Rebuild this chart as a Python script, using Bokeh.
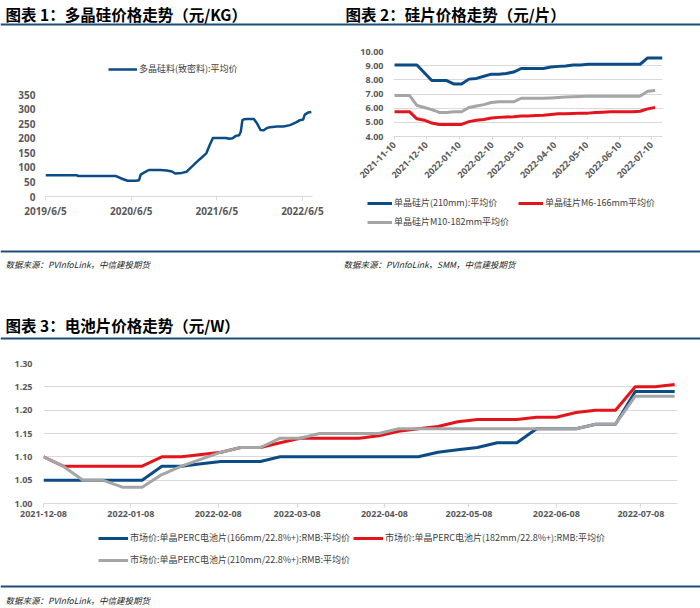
import math
import pandas as pd
from bokeh.plotting import figure
from bokeh.models import Range1d, FixedTicker, PrintfTickFormatter, Legend, LegendItem
from bokeh.layouts import column, row
from bokeh.core.properties import value
from bokeh.embed import file_html
from bokeh.resources import INLINE

# ---------------- data ----------------
titles = ["图表 1：多晶硅价格走势（元/KG）", "图表 2：硅片价格走势（元/片）", "图表 3：电池片价格走势（元/W）"]
sources = ["数据来源：PVInfoLink，中信建投期货", "数据来源：PVInfoLink，SMM，中信建投期货", "数据来源：PVInfoLink，中信建投期货"]

poly_label = "多晶硅料(致密料):平均价"
poly_dates = ["2019-06-05", "2019-10-16", "2019-10-23", "2020-04-01", "2020-04-29", "2020-05-20",
              "2020-06-24", "2020-07-08", "2020-07-15", "2020-07-29", "2020-08-19", "2020-10-07",
              "2020-11-04", "2020-11-25", "2020-12-09", "2021-01-06", "2021-01-27", "2021-02-24",
              "2021-03-24", "2021-04-21", "2021-05-05", "2021-05-19", "2021-07-14", "2021-07-28",
              "2021-08-11", "2021-08-25", "2021-09-08", "2021-09-15", "2021-09-22", "2021-09-29",
              "2021-10-13", "2021-11-10", "2021-11-24", "2021-12-08", "2021-12-22", "2022-01-05",
              "2022-01-19", "2022-02-16", "2022-03-16", "2022-04-13", "2022-05-11", "2022-05-25",
              "2022-06-08", "2022-06-15", "2022-06-29", "2022-07-13"]
poly_price = [73, 73, 70, 70, 60, 54,
              54, 56, 75, 82, 91, 91,
              89, 86, 79, 81, 85, 107,
              128, 148, 176, 201, 201, 198,
              200, 208, 210, 222, 262, 265,
              266, 266, 250, 228, 227, 235,
              238, 240, 240, 245, 255, 262,
              264, 281, 288, 290]
poly_xticks = ["2019/6/5", "2020/6/5", "2021/6/5", "2022/6/5"]
poly_yticks = [0, 50, 100, 150, 200, 250, 300, 350]

wafer_labels = ["单晶硅片(210mm):平均价", "单晶硅片M6-166mm平均价", "单晶硅片M10-182mm平均价"]
wafer_dates = ["2021-11-10", "2021-11-17", "2021-11-24", "2021-12-01", "2021-12-08", "2021-12-15",
               "2021-12-22", "2021-12-29", "2022-01-05", "2022-01-12", "2022-01-19", "2022-01-26",
               "2022-02-02", "2022-02-09", "2022-02-16", "2022-02-23", "2022-03-02", "2022-03-09",
               "2022-03-16", "2022-03-23", "2022-03-30", "2022-04-06", "2022-04-13", "2022-04-20",
               "2022-04-27", "2022-05-04", "2022-05-11", "2022-05-18", "2022-05-25", "2022-06-01",
               "2022-06-08", "2022-06-15", "2022-06-22", "2022-06-29", "2022-07-06", "2022-07-13",
               "2022-07-20"]
wafer_210 = [9.05, 9.05, 9.05, 9.05, 8.50, 7.95, 7.95, 7.95, 7.70, 7.70, 8.05, 8.10,
             8.25, 8.40, 8.40, 8.45, 8.55, 8.80, 8.80, 8.80, 8.80, 8.90, 8.95, 8.98,
             9.05, 9.05, 9.10, 9.10, 9.10, 9.10, 9.10, 9.10, 9.10, 9.10, 9.55, 9.55, 9.55]
wafer_166 = [5.75, 5.75, 5.75, 5.25, 5.15, 4.95, 4.85, 4.85, 4.85, 4.85, 5.05, 5.15,
             5.20, 5.30, 5.35, 5.38, 5.40, 5.45, 5.45, 5.48, 5.50, 5.55, 5.60, 5.60,
             5.62, 5.65, 5.65, 5.70, 5.72, 5.75, 5.75, 5.75, 5.75, 5.78, 5.95, 6.05]
wafer_182 = [6.90, 6.90, 6.90, 6.20, 6.05, 5.90, 5.70, 5.70, 5.75, 5.75, 6.05, 6.15,
             6.25, 6.40, 6.45, 6.45, 6.45, 6.70, 6.70, 6.70, 6.70, 6.72, 6.75, 6.78,
             6.80, 6.82, 6.85, 6.85, 6.85, 6.85, 6.85, 6.85, 6.85, 6.85, 7.20, 7.25]
wafer_xticks = ["2021-11-10", "2021-12-10", "2022-01-10", "2022-02-10", "2022-03-10",
                "2022-04-10", "2022-05-10", "2022-06-10", "2022-07-10"]
wafer_yticks = [4, 5, 6, 7, 8, 9, 10]

cell_labels = ["市场价:单晶PERC电池片(166mm/22.8%+):RMB:平均价",
               "市场价:单晶PERC电池片(182mm/22.8%+):RMB:平均价",
               "市场价:单晶PERC电池片(210mm/22.8%+):RMB:平均价"]
cell_dates = ["2021-12-08", "2021-12-15", "2021-12-22", "2021-12-29", "2022-01-05", "2022-01-12",
              "2022-01-19", "2022-01-26", "2022-02-02", "2022-02-09", "2022-02-16", "2022-02-23",
              "2022-03-02", "2022-03-09", "2022-03-16", "2022-03-23", "2022-03-30", "2022-04-06",
              "2022-04-13", "2022-04-20", "2022-04-27", "2022-05-04", "2022-05-11", "2022-05-18",
              "2022-05-25", "2022-06-01", "2022-06-08", "2022-06-15", "2022-06-22", "2022-06-29",
              "2022-07-06", "2022-07-13", "2022-07-20"]
cell_166 = [1.05, 1.05, 1.05, 1.05, 1.05, 1.05, 1.08, 1.08, 1.085, 1.09, 1.09, 1.09,
            1.10, 1.10, 1.10, 1.10, 1.10, 1.10, 1.10, 1.10, 1.11, 1.115, 1.12, 1.13,
            1.13, 1.16, 1.16, 1.16, 1.17, 1.17, 1.24, 1.24, 1.24]
cell_182 = [1.10, 1.08, 1.08, 1.08, 1.08, 1.08, 1.10, 1.10, 1.105, 1.11, 1.12, 1.12,
            1.13, 1.14, 1.14, 1.14, 1.14, 1.145, 1.155, 1.16, 1.165, 1.175, 1.18, 1.18,
            1.18, 1.185, 1.185, 1.195, 1.20, 1.20, 1.25, 1.25, 1.255]
cell_210 = [1.10, 1.08, 1.05, 1.05, 1.035, 1.035, 1.062, 1.08, 1.095, 1.11, 1.12, 1.12,
            1.14, 1.14, 1.15, 1.15, 1.15, 1.15, 1.16, 1.16, 1.16, 1.16, 1.16, 1.16,
            1.16, 1.16, 1.16, 1.16, 1.17, 1.17, 1.23, 1.23, 1.23]
cell_xticks = ["2021-12-08", "2022-01-08", "2022-02-08", "2022-03-08", "2022-04-08",
               "2022-05-08", "2022-06-08", "2022-07-08"]
cell_yticks = [1.00, 1.05, 1.10, 1.15, 1.20, 1.25, 1.30]

# ---------------- style ----------------
BLUE = "#0b4c86"
RED = "#e3141c"
GRAY = "#a5a5a5"
RULE = "#1f4e79"
TICK = "#595959"
LIGHT = "#d9d9d9"
CJK = "Noto Sans CJK SC"
NUM = "Open Sans"


def ts(s):
    return pd.Timestamp(s.replace("/", "-")).to_pydatetime()


def ms(s):
    return float(pd.Timestamp(s.replace("/", "-")).value // 10**6)


def strip(width, height):
    p = figure(width=width, height=height, x_range=Range1d(0, width), y_range=Range1d(height, 0),
               output_backend="svg", toolbar_location=None, min_border=0, frame_align=False,
               x_axis_location=None, y_axis_location=None, title=None)
    p.outline_line_color = None
    p.grid.visible = False
    return p


def put_text(p, x, y, txt, size, bold=False, italic=False, color="#000000"):
    p.text(x=[x], y=[y], text=[txt], text_font=value(CJK), text_font_size=size,
           text_font_style="bold" if bold else ("italic" if italic else "normal"),
           text_baseline="middle", text_align="left", text_color=color)


def rule(p, x0, x1, y):
    p.segment(x0=[x0], y0=[y], x1=[x1], y1=[y], line_color=RULE, line_width=2)


def legend_strip(width, height, entries):
    # legend keys: styled line renderers (no visible data) referenced by single-item legends
    p = strip(width, height)
    for label, color, lw, x, y, gw in entries:
        r = p.line(x=[0, 0], y=[float("nan"), float("nan")], line_color=color, line_width=lw)
        lg = Legend(items=[LegendItem(label=value(label), renderers=[r], index=0)], location=(x, y),
                    padding=0, margin=0, spacing=0, glyph_width=gw, glyph_height=12,
                    label_height=12, label_standoff=2, border_line_color=None,
                    background_fill_alpha=0, label_text_font=CJK,
                    label_text_font_size="9px", label_text_color="#404040")
        p.add_layout(lg, "center")
    return p


def chart(width, height, xr, yr, borders):
    l, r, t, b = borders
    p = figure(width=width, height=height, x_axis_type="datetime", x_range=xr, y_range=yr,
               output_backend="svg", toolbar_location=None, title=None, frame_align=False,
               min_border_left=l, min_border_right=r, min_border_top=t, min_border_bottom=b)
    p.outline_line_color = None
    p.xgrid.visible = False
    p.ygrid.grid_line_color = LIGHT
    p.ygrid.grid_line_width = 1
    for ax in (p.xaxis[0], p.yaxis[0]):
        ax.major_label_text_color = TICK
        ax.major_label_text_font = NUM
        ax.major_label_text_font_style = "bold"
        ax.minor_tick_line_color = None
    p.xaxis.axis_line_color = LIGHT
    p.xaxis.major_tick_line_color = LIGHT
    p.xaxis.major_tick_in = 0
    p.xaxis.major_tick_out = 4
    p.xaxis.major_label_standoff = 3
    p.yaxis.axis_line_color = None
    p.yaxis.major_tick_line_color = None
    p.yaxis.major_tick_in = 0
    p.yaxis.major_tick_out = 0
    return p


def date_ticks(p, labels):
    ticks = [ms(s) for s in labels]
    p.xaxis.ticker = FixedTicker(ticks=ticks)
    p.xaxis.major_label_overrides = {t: s for t, s in zip(ticks, labels)}


# ---------------- header strip ----------------
sa = strip(700, 28)
put_text(sa, 5, 13, titles[0], "15.5px", bold=True)
put_text(sa, 345, 13, titles[1], "15.5px", bold=True)
rule(sa, 0, 700, 24)

# ---------------- chart 1 ----------------
leg1 = legend_strip(340, 54, [(poly_label, BLUE, 2.5, 108, 7, 29)])
p1 = chart(340, 166, Range1d(ts("2019-06-05"), ts("2022-07-18")), Range1d(0, 350), (45, 28, 12, 52))
p1.ygrid.visible = False
p1.line(pd.to_datetime(poly_dates), poly_price, line_color=BLUE, line_width=2.5, line_join="round")
date_ticks(p1, poly_xticks)
p1.yaxis.ticker = FixedTicker(ticks=poly_yticks)
p1.xaxis.major_label_text_font_size = "10px"
p1.yaxis.major_label_text_font_size = "10px"
p1.yaxis.major_label_standoff = 10

# ---------------- chart 2 ----------------
p2 = chart(360, 162, Range1d(ts("2021-11-09"), ts("2022-07-20")), Range1d(4, 10), (53, 38, 23, 54))
wd = pd.to_datetime(wafer_dates)
p2.line(wd, wafer_210, line_color=BLUE, line_width=3, line_join="round")
p2.line(wd[:len(wafer_166)], wafer_166, line_color=RED, line_width=3, line_join="round")
p2.line(wd[:len(wafer_182)], wafer_182, line_color=GRAY, line_width=3, line_join="round")
date_ticks(p2, wafer_xticks)
p2.xaxis.major_label_orientation = math.pi / 4
p2.xaxis.major_tick_out = 3
p2.xaxis.major_label_standoff = 4
p2.yaxis.ticker = FixedTicker(ticks=wafer_yticks)
p2.yaxis.formatter = PrintfTickFormatter(format="%.2f")
p2.xaxis.major_label_text_font_size = "9px"
p2.yaxis.major_label_text_font_size = "9px"
p2.yaxis.major_label_standoff = 10
leg2 = legend_strip(360, 58, [(wafer_labels[0], BLUE, 3, 27, 39, 25),
                              (wafer_labels[1], RED, 3, 178, 39, 25),
                              (wafer_labels[2], GRAY, 3, 27, 20, 25)])

# ---------------- middle strip ----------------
sc = strip(700, 94)
rule(sc, 0, 700, 3)
put_text(sc, 5, 15, sources[0], "8.5px", italic=True, color="#222222")
put_text(sc, 343, 15, sources[1], "8.5px", italic=True, color="#222222")
put_text(sc, 5, 76, titles[2], "15.5px", bold=True)
rule(sc, 0, 700, 90)

# ---------------- chart 3 ----------------
p3 = chart(700, 184, Range1d(ts("2021-12-08"), ts("2022-07-21")), Range1d(1.0, 1.3), (43, 23, 21, 23))
cd = pd.to_datetime(cell_dates)
p3.line(cd, cell_166, line_color=BLUE, line_width=3, line_join="round")
p3.line(cd, cell_182, line_color=RED, line_width=3, line_join="round")
p3.line(cd, cell_210, line_color=GRAY, line_width=3, line_join="round")
date_ticks(p3, cell_xticks)
p3.yaxis.ticker = FixedTicker(ticks=cell_yticks)
p3.yaxis.formatter = PrintfTickFormatter(format="%.2f")
p3.xaxis.major_label_text_font_size = "9px"
p3.yaxis.major_label_text_font_size = "9px"
p3.yaxis.major_label_standoff = 11
leg3 = legend_strip(700, 52, [(cell_labels[0], BLUE, 3, 98, 34, 30),
                              (cell_labels[1], RED, 3, 353, 34, 30),
                              (cell_labels[2], GRAY, 3, 98, 12, 30)])

# ---------------- bottom strip ----------------
sd = strip(700, 30)
rule(sd, 0, 700, 8)
put_text(sd, 5, 21, sources[2], "8.5px", italic=True, color="#222222")

layout = column(sa, row(column(leg1, p1), column(p2, leg2)), sc, p3, leg3, sd)
open("out.html", "w").write(file_html(layout, INLINE))
